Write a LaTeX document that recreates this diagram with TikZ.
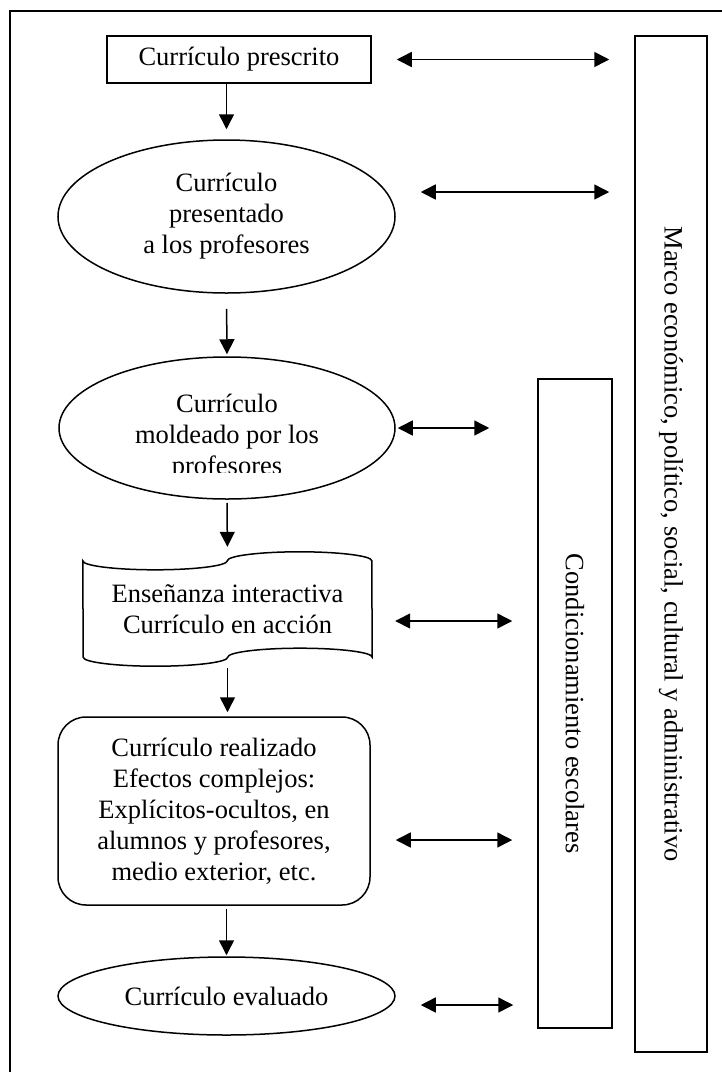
\documentclass[tikz,border=0pt]{standalone}
\usepackage{fontspec}
\setmainfont{Liberation Serif}
\usetikzlibrary{arrows.meta, shapes.geometric}
\tikzset{
  flowtext/.style={font=\fontsize{26.5}{31}\selectfont, align=center, inner sep=0pt},
  rectbox/.style={flowtext, rectangle, draw, line width=1.5pt},
  ovalbox/.style={flowtext, ellipse, draw, line width=1.5pt},
  roundbox/.style={flowtext, rectangle, draw, rounded corners=28pt, line width=1.5pt},
  sidebox/.style={flowtext, rectangle, draw, line width=1.5pt, rotate=-90},
}

\begin{document}
\begin{tikzpicture}[
    x=1pt, y=1pt,
    arr/.style={-{Triangle[length=15pt, width=15pt]}, line width=1.5pt},
    dbl/.style={{Triangle[length=15pt, width=15pt]}-{Triangle[length=15pt, width=15pt]},
                line width=1.5pt, shorten <=25pt, shorten >=25pt}
  ]
  \useasboundingbox (0,0) rectangle (721,-1072);
  % outer frame, runs off the page on the right and at the bottom
  \draw[line width=1.8pt] (10,-11) rectangle (760,-1100);

  % left column
  \node[rectbox, minimum width=264pt, minimum height=47pt] (b1) at (239,-59.5) {Currículo prescrito};
  \node[ovalbox, minimum width=337pt, minimum height=153pt] (e1) at (226.5,-216.5) {Currículo\\presentado\\a los profesores};
  \node[ovalbox, minimum width=336pt, minimum height=142pt] (e2) at (227,-428) {};
  \begin{scope}
    \clip (60,-360) rectangle (394,-472.5);
    \node[flowtext] (e2text) at (227,-437) {Currículo\\moldeado por los\\profesores};
  \end{scope}
  \node[flowtext, minimum width=289pt, minimum height=96pt] (doc) at (227.5,-609) {Enseñanza interactiva\\Currículo en acción};
  \draw[line width=1.5pt] (doc.north west)
    arc[start angle=180, end angle=360, x radius=72.25pt, y radius=9pt]
    arc[start angle=180, end angle=0, x radius=72.25pt, y radius=9pt]
    -- (doc.south east)
    arc[start angle=0, end angle=180, x radius=72.25pt, y radius=9pt]
    arc[start angle=0, end angle=-180, x radius=72.25pt, y radius=9pt]
    -- cycle;
  \node[roundbox, minimum width=312pt, minimum height=188pt] (rr) at (214,-811)
    {Currículo realizado\\Efectos complejos:\\Explícitos-ocultos, en\\alumnos y profesores,\\medio exterior, etc.};
  \node[ovalbox, minimum width=337pt, minimum height=78pt] (e4) at (226.5,-996) {Currículo evaluado};

  % right column (rotated: .south is the left side)
  \node[sidebox, minimum width=1016pt, minimum height=72pt] (marco) at (671,-544)
    {Marco económico, político, social, cultural y administrativo};
  \node[sidebox, minimum width=649pt, minimum height=74pt] (cond) at (575,-703.5)
    {Condicionamiento escolares};

  % downward flow
  \draw[arr, shorten >=10pt] (b1.south -| e1.north) -- (e1.north);
  \draw[arr, shorten <=15pt, shorten >=2pt] (e1.south) -- (e2.north);
  \draw[arr, shorten <=3pt, shorten >=14pt] (e2.south) -- (doc.north);
  \draw[arr, shorten <=11pt, shorten >=4pt] (doc.south) -- (rr.north -| doc.south);
  \draw[arr, shorten <=3pt, shorten >=1pt] (rr.south -| e4.north) -- (e4.north);

  % links to the context boxes
  \draw[dbl] (b1.east) -- (b1.east -| marco.south);
  \draw[dbl] ([yshift=24.5pt]e1.east) -- ([yshift=24.5pt]e1.east -| marco.south);
  \draw[dbl, shorten <=2pt, shorten >=48pt] (e2.east) -- (e2.east -| cond.south);
  \draw[dbl, shorten <=23pt] ([yshift=-12pt]doc.east) -- ([yshift=-12pt]doc.east -| cond.south);
  \draw[dbl] ([yshift=-29pt]rr.east) -- ([yshift=-29pt]rr.east -| cond.south);
  \draw[dbl, shorten >=24pt] ([yshift=-9pt]e4.east) -- ([yshift=-9pt]e4.east -| cond.south);
\end{tikzpicture}
\end{document}
